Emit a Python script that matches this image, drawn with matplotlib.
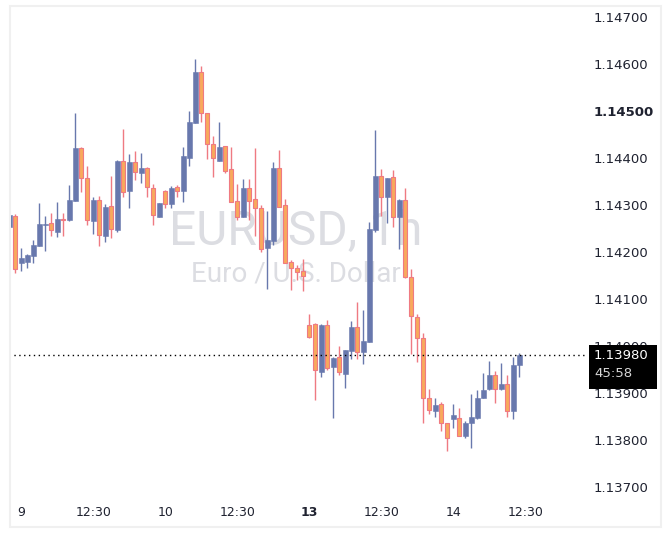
import numpy as np
import matplotlib
matplotlib.use("Agg")
import matplotlib.pyplot as plt
from matplotlib.patches import Rectangle
from matplotlib.transforms import blended_transform_factory

# EURUSD 1h candles (first one is cut by the left edge)
opens = [1.14254, 1.14277, 1.14176, 1.14179, 1.14192, 1.14213, 1.14257, 1.14261, 1.14243, 1.14271,
         1.14268, 1.14309, 1.14421, 1.14357, 1.14267, 1.14311, 1.14235, 1.14298, 1.14247, 1.14394,
         1.14330, 1.14391, 1.14369, 1.14378, 1.14336, 1.14275, 1.14330, 1.14303, 1.14338, 1.14330,
         1.14401, 1.14475, 1.14583, 1.14495, 1.14429, 1.14394, 1.14425, 1.14377, 1.14309, 1.14275,
         1.14337, 1.14313, 1.14293, 1.14209, 1.14224, 1.14379, 1.14299, 1.14178, 1.14165, 1.14160,
         1.14045, 1.14047, 1.13945, 1.14045, 1.13956, 1.13976, 1.13940, 1.13990, 1.14040, 1.13987,
         1.14009, 1.14247, 1.14362, 1.14316, 1.14359, 1.14275, 1.14311, 1.14146, 1.14062, 1.14016,
         1.13889, 1.13862, 1.13876, 1.13836, 1.13844, 1.13846, 1.13809, 1.13836, 1.13846, 1.13890,
         1.13908, 1.13938, 1.13908, 1.13919, 1.13862, 1.13960]
highs = [1.14285, 1.14280, 1.14208, 1.14195, 1.14226, 1.14304, 1.14277, 1.14284, 1.14306, 1.14282,
         1.14343, 1.14495, 1.14424, 1.14383, 1.14316, 1.14319, 1.14302, 1.14362, 1.14395, 1.14462,
         1.14409, 1.14415, 1.14411, 1.14381, 1.14345, 1.14304, 1.14331, 1.14340, 1.14343, 1.14424,
         1.14500, 1.14611, 1.14596, 1.14496, 1.14447, 1.14477, 1.14426, 1.14424, 1.14345, 1.14355,
         1.14356, 1.14422, 1.14300, 1.14287, 1.14391, 1.14416, 1.14313, 1.14183, 1.14172, 1.14185,
         1.14068, 1.14048, 1.14046, 1.14055, 1.13976, 1.14000, 1.13992, 1.14053, 1.14094, 1.14077,
         1.14264, 1.14460, 1.14376, 1.14358, 1.14374, 1.14312, 1.14336, 1.14163, 1.14068, 1.14027,
         1.13908, 1.13889, 1.13881, 1.13837, 1.13877, 1.13869, 1.13840, 1.13898, 1.13906, 1.13942,
         1.13968, 1.13947, 1.13963, 1.13938, 1.13977, 1.13986]
lows = [1.14251, 1.14155, 1.14160, 1.14165, 1.14176, 1.14212, 1.14203, 1.14235, 1.14231, 1.14234,
        1.14267, 1.14308, 1.14328, 1.14257, 1.14238, 1.14213, 1.14222, 1.14229, 1.14243, 1.14316,
        1.14294, 1.14353, 1.14346, 1.14316, 1.14257, 1.14274, 1.14294, 1.14294, 1.14318, 1.14307,
        1.14384, 1.14474, 1.14477, 1.14398, 1.14360, 1.14393, 1.14369, 1.14306, 1.14268, 1.14274,
        1.14268, 1.14235, 1.14199, 1.14121, 1.14215, 1.14295, 1.14176, 1.14119, 1.14140, 1.14118,
        1.14018, 1.13885, 1.13935, 1.13950, 1.13846, 1.13938, 1.13910, 1.13972, 1.13972, 1.13961,
        1.14008, 1.14243, 1.14277, 1.14262, 1.14254, 1.14206, 1.14145, 1.13984, 1.13967, 1.13836,
        1.13855, 1.13850, 1.13820, 1.13777, 1.13825, 1.13808, 1.13805, 1.13784, 1.13845, 1.13889,
        1.13907, 1.13878, 1.13907, 1.13848, 1.13844, 1.13935]
closes = [1.14279, 1.14163, 1.14187, 1.14193, 1.14215, 1.14260, 1.14260, 1.14247, 1.14270, 1.14269,
          1.14311, 1.14421, 1.14357, 1.14268, 1.14311, 1.14236, 1.14295, 1.14250, 1.14394, 1.14328,
          1.14391, 1.14370, 1.14378, 1.14338, 1.14278, 1.14304, 1.14302, 1.14336, 1.14330, 1.14404,
          1.14477, 1.14583, 1.14495, 1.14429, 1.14399, 1.14423, 1.14373, 1.14307, 1.14274, 1.14337,
          1.14309, 1.14293, 1.14207, 1.14226, 1.14379, 1.14296, 1.14177, 1.14165, 1.14158, 1.14150,
          1.14019, 1.13949, 1.14045, 1.13954, 1.13975, 1.13944, 1.13991, 1.14040, 1.13987, 1.14011,
          1.14249, 1.14362, 1.14316, 1.14357, 1.14275, 1.14311, 1.14146, 1.14064, 1.14016, 1.13889,
          1.13863, 1.13874, 1.13836, 1.13804, 1.13853, 1.13809, 1.13836, 1.13848, 1.13889, 1.13906,
          1.13938, 1.13908, 1.13919, 1.13862, 1.13960, 1.13980]

# time axis labels sit on candle index
time_ticks = [1, 13, 25, 37, 49, 61, 73, 85]
time_labels = ["9", "12:30", "10", "12:30", "13", "12:30", "14", "12:30"]
price_ticks = [1.137, 1.138, 1.139, 1.140, 1.141, 1.142, 1.143, 1.144, 1.145, 1.146, 1.147]
countdown = "45:58"

bull = "#6878ad"
bear_fill = "#f8a95c"
bear_edge = "#ef7a82"
txt = "#1f2230"

W, H = 670, 545
fig = plt.figure(figsize=(W / 100, H / 100), dpi=100)
fig.patch.set_facecolor("white")

# pane in pixels: x 9..585, y 6..495
ax = fig.add_axes([9 / W, 1 - 495 / H, 576 / W, 489 / H])
for s in ax.spines.values():
    s.set_visible(False)

o = np.array(opens)
h = np.array(highs)
l = np.array(lows)
c = np.array(closes)
x = np.arange(len(o)) - 1
up = c >= o

# wicks
ax.vlines(x[up], l[up], h[up], color=bull, lw=1, zorder=2)
ax.vlines(x[~up], l[~up], h[~up], color=bear_edge, lw=1, zorder=2)
# bodies
ax.bar(x[up], (c - o)[up], bottom=o[up], width=0.78, color=bull,
       edgecolor=bull, linewidth=0.4, zorder=3)
ax.bar(x[~up], (o - c)[~up], bottom=c[~up], width=0.7, color=bear_fill,
       edgecolor=bear_edge, linewidth=0.8, zorder=3)

ax.set_xlim(-1.05, 94.95)
ax.set_ylim(1.136830, 1.147234)

# watermark
ax.text(0.498, 0.511, "EURUSD, 1h", transform=ax.transAxes, ha="center", va="baseline",
        fontsize=34.5, family="Roboto", color="#dcdde2", zorder=1)
ax.text(0.498, 0.436, "Euro / U.S. Dollar", transform=ax.transAxes, ha="center", va="baseline",
        fontsize=20, family="Roboto", color="#dcdde2", zorder=1)

# time axis
ax.set_xticks(time_ticks)
ax.set_xticklabels(time_labels, fontsize=9, color=txt)
ax.tick_params(axis="x", length=0, pad=8)
for t in ax.get_xticklabels():
    if t.get_text() == "13":
        t.set_fontweight("bold")

# price axis on the right
ax.yaxis.tick_right()
ax.set_yticks(price_ticks)
ax.set_yticklabels(["%.5f" % p for p in price_ticks], fontsize=9.5, color=txt)
ax.tick_params(axis="y", length=0, pad=6)
for t in ax.get_yticklabels():
    if t.get_text() == "1.14500":
        t.set_fontweight("bold")

# last price line and label
last = closes[-1]
ax.axhline(last, color="black", lw=1, ls=(0, (1, 2.5)), zorder=4)
ppx = (ax.get_ylim()[1] - ax.get_ylim()[0]) / 489.0
tr = blended_transform_factory(ax.transAxes, ax.transData)
ax.add_patch(Rectangle((580 / 576, last - 34 * ppx), 68 / 576, 44 * ppx, transform=tr,
                       facecolor="black", edgecolor="none", clip_on=False, zorder=10))
ax.text(585 / 576, last, "%.5f" % last, transform=tr, ha="left", va="center",
        fontsize=9.5, color="white", zorder=11, clip_on=False)
ax.text(585 / 576, last - 18.5 * ppx, countdown, transform=tr, ha="left", va="center",
        fontsize=9.5, color="#d6d6d6", zorder=11, clip_on=False)

# light outer frame
fig.add_artist(Rectangle((9.5 / W, 1 - 527 / H), 651 / W, 521.5 / H, transform=fig.transFigure,
                         fill=False, edgecolor="#f0f0f0", lw=1.5))

fig.savefig("out.png", dpi=100)
